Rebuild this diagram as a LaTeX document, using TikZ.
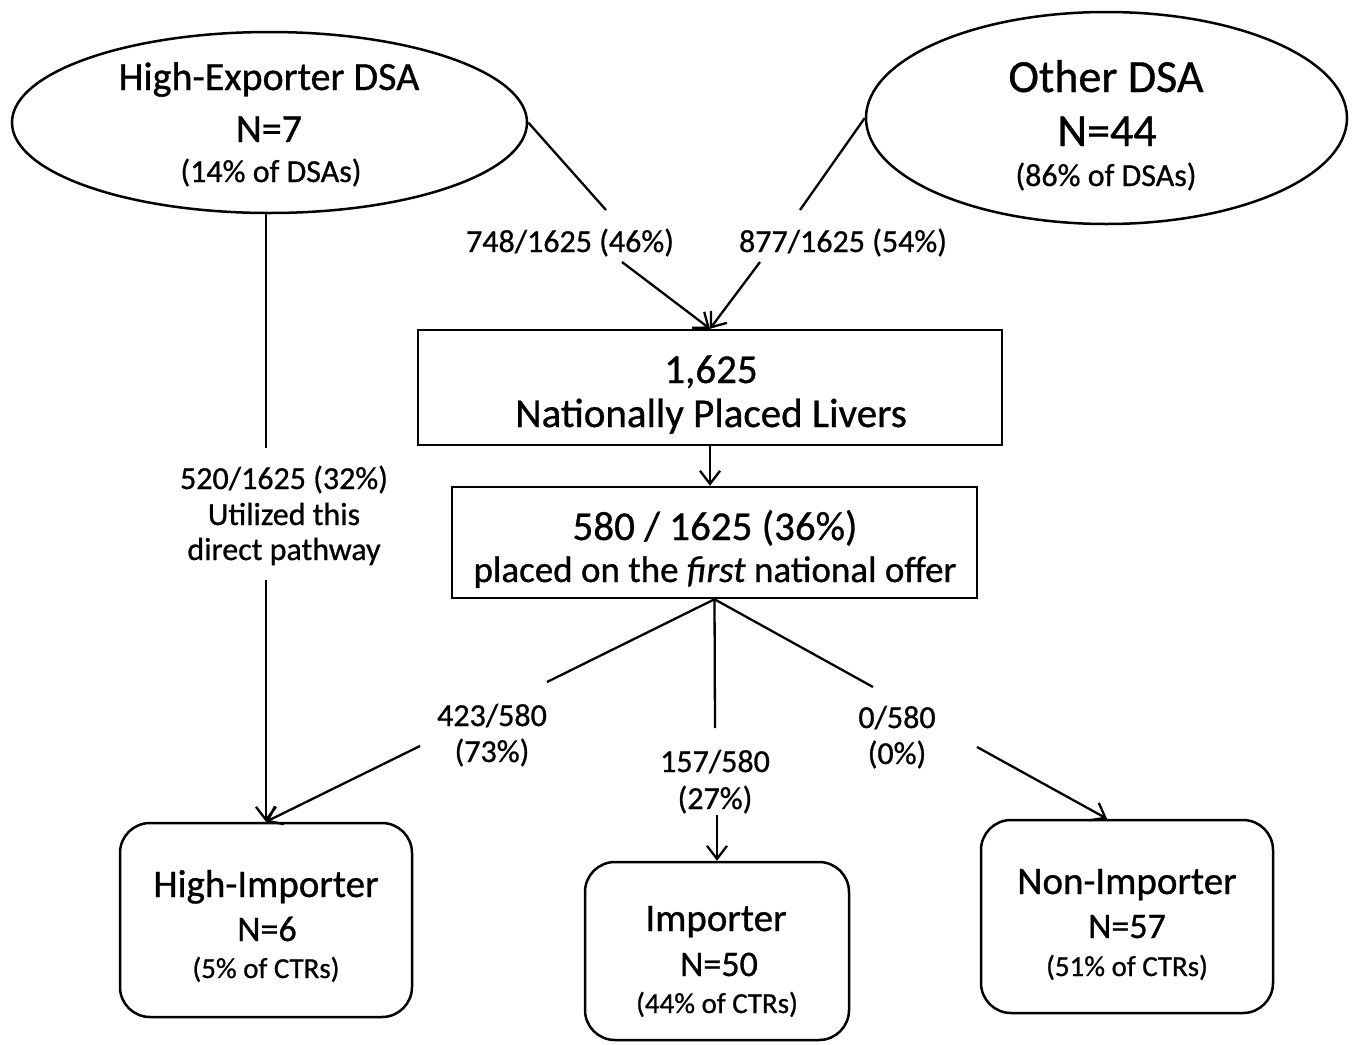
\documentclass[tikz,border=0pt]{standalone}
\usepackage{fontspec}
\setmainfont{Carlito}[FakeBold=0.8]
\usetikzlibrary{shapes.geometric,arrows.meta,calc}
\begin{document}
\begin{tikzpicture}[x=1pt,y=-1pt,
  conn/.style={line width=2.3pt},
  arr/.style={line width=2.3pt,-{Straight Barb[length=13pt,width=20pt,line width=2.3pt]}},
  oval/.style={draw,ellipse,line width=2.5pt,inner sep=0pt},
  boxnode/.style={draw,rectangle,line width=2.5pt,inner sep=0pt},
  rbox/.style={draw,rectangle,rounded corners=30pt,line width=2.5pt,inner sep=0pt},
  txt/.style={anchor=base,inner sep=0pt},
  fA/.style={font=\fontsize{40}{48}\selectfont},
  fB/.style={font=\fontsize{46}{54}\selectfont},
  fC/.style={font=\fontsize{32}{38}\selectfont},
  fD/.style={font=\fontsize{41}{48}\selectfont},
  fE/.style={font=\fontsize{37}{44}\selectfont},
  fF/.style={font=\fontsize{39}{46}\selectfont},
  fG/.style={font=\fontsize{36}{42}\selectfont},
  fH/.style={font=\fontsize{29}{35}\selectfont}
]
\useasboundingbox (0,0) rectangle (1357,1044);

% shapes
\node[oval,minimum width=515pt,minimum height=181pt] (e1) at (269.5,122.5) {};
\node[oval,minimum width=481pt,minimum height=212pt] (e2) at (1106.5,118) {};
\node[boxnode,minimum width=584pt,minimum height=115pt] (r1) at (710,387.5) {};
\node[boxnode,minimum width=525pt,minimum height=111pt] (r2) at (714.5,542.5) {};
\node[rbox,minimum width=292pt,minimum height=194pt] (hi) at (266,920) {};
\node[rbox,minimum width=264pt,minimum height=178pt] (im) at (717,951) {};
\node[rbox,minimum width=292pt,minimum height=193pt] (ni) at (1127,916.5) {};

% texts in shapes
\node[txt,fA] (e1a) at (269,90) {High-Exporter DSA};
\node[txt,fA] (e1b) at (269,142) {N=7};
\node[txt,fC] (e1c) at (271,182) {(14\% of DSAs)};
\node[txt,fB] (e2a) at (1106,92) {Other DSA};
\node[txt,fB] (e2b) at (1107,146) {N=44};
\node[txt,fC] (e2c) at (1106,186) {(86\% of DSAs)};
\node[txt,fD] (r1a) at (711,383) {1,625};
\node[txt,fD] (r1b) at (711,427) {Nationally Placed Livers};
\node[txt,fD] (r2a) at (715,540) {580 / 1625 (36\%)};
\node[txt,fE] (r2b) at (715,582) {placed on the \textit{first} national offer};
\node[txt,fF] (hia) at (266,897) {High-Importer};
\node[txt,fG] (hib) at (267,941) {N=6};
\node[txt,fH] (hic) at (266,978) {(5\% of CTRs)};
\node[txt,fF] (ima) at (716,931) {Importer};
\node[txt,fG] (imb) at (719,976) {N=50};
\node[txt,fH] (imc) at (717,1013) {(44\% of CTRs)};
\node[txt,fF] (nia) at (1127,894) {Non-Importer};
\node[txt,fG] (nib) at (1127,938) {N=57};
\node[txt,fH] (nic) at (1127,976) {(51\% of CTRs)};

% connector labels
\node[txt,fC] (l1) at (570,252) {748/1625 (46\%)};
\node[txt,fC] (l2) at (843,252) {877/1625 (54\%)};
\node[txt,fC] (l3a) at (284,489) {520/1625 (32\%)};
\node[txt,fC] (l3b) at (284,525) {Utilized this};
\node[txt,fC] (l3c) at (284,560) {direct pathway};
\node[txt,fC] (l4a) at (492,726) {423/580};
\node[txt,fC] (l4b) at (492,762) {(73\%)};
\node[txt,fC] (l5a) at (715,772) {157/580};
\node[txt,fC] (l5b) at (715,809) {(27\%)};
\node[txt,fC] (l6a) at (897,728) {0/580};
\node[txt,fC] (l6b) at (897,764) {(0\%)};

% free ends of connectors
\coordinate (c1a) at (606,210);
\coordinate (c1b) at (622,262);
\coordinate (c2a) at (800,210);
\coordinate (c2b) at (760,262);
\coordinate (c3a) at (266,448);
\coordinate (c3b) at (266,580);
\coordinate (c4a) at (547,682);
\coordinate (c4b) at (420,746);
\coordinate (c5a) at (715,728);
\coordinate (c5b) at (717,815);
\coordinate (c6a) at (873,687);
\coordinate (c6b) at (977,747);
\coordinate (niin) at ($(ni.north)+(-20,0)$);

% connectors
\draw[conn] (e1.east) -- (c1a);
\draw[arr] (c1b) -- (r1.north);
\draw[conn] (e2.west) -- (c2a);
\draw[arr] (c2b) -- (r1.north);
\draw[arr] (r1.south) -- (r1.south |- r2.north);
\draw[conn] (e1.south -| hi.north) -- (c3a);
\draw[arr] (c3b) -- (hi.north);
\draw[conn] (r2.south) -- (c4a);
\draw[conn] (r2.south) -- (c5a);
\draw[conn] (r2.south) -- (c6a);
\draw[arr] (c4b) -- (hi.north);
\draw[arr] (c5b) -- (im.north);
\draw[arr] (c6b) -- (niin);
\end{tikzpicture}
\end{document}
